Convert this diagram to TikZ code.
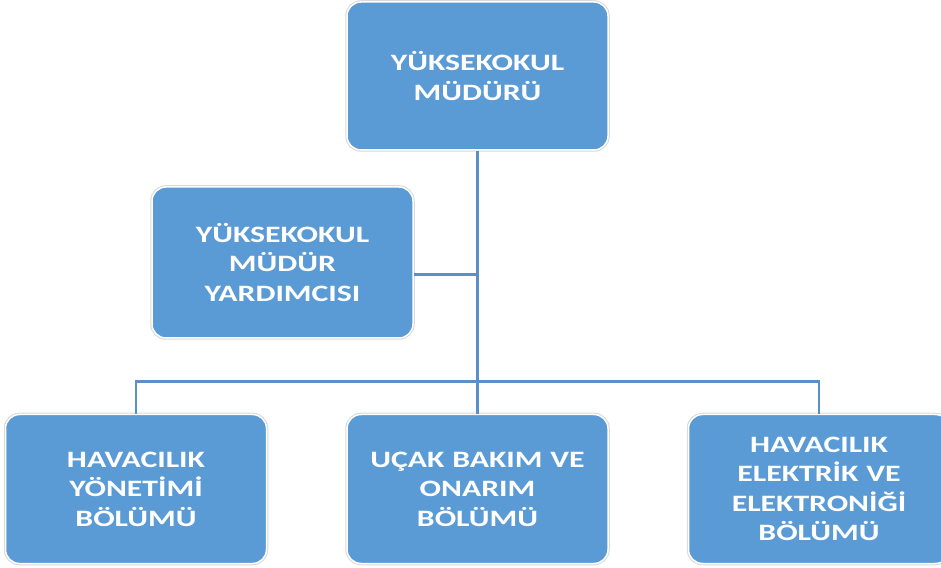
\documentclass[tikz,border=0pt]{standalone}
\usepackage{fontspec}
\setmainfont{Carlito}[FakeStretch=1.35]
\usepackage{xcolor}
\usepackage{tikz}
\usetikzlibrary{positioning, calc}

\definecolor{unitblue}{HTML}{5B9BD5}
\definecolor{lineblue}{HTML}{5A8FC8}

\begin{document}
\begin{tikzpicture}[x=1pt, y=1pt, node distance=79pt,
                % Define styles
                unit/.style={rectangle, draw=white, line width=1.5pt, fill=unitblue, rounded corners=14pt,
                             minimum width=261pt, minimum height=149pt, text width=245pt, align=center,
                             text=white, font=\fontsize{23.5}{29.5}\selectfont\bfseries,
                             preaction={draw=black!15, line width=3.5pt}},
                line/.style={draw=lineblue, line width=2.6pt}
            ]
            \clip (0,0) rectangle (941,567);
            \fill[white] (0,0) rectangle (941,567);

            % --- Nodes ---

            % 1. Director
            \node [unit, minimum height=148pt] (director) at (477.5,491) {YÜKSEKOKUL\\MÜDÜRÜ};

            % 2. Assistant director
            \node [unit, minimum height=151pt] (assistant) at (282.5,304.5) {YÜKSEKOKUL\\MÜDÜR\\YARDIMCISI};

            % 3. Departments
            \node [unit, below=263pt of director] (maintenance) {UÇAK BAKIM VE\\ONARIM\\BÖLÜMÜ};
            \node [unit, left=of maintenance] (management) {HAVACILIK\\YÖNETİMİ\\BÖLÜMÜ};
            \node [unit, right=of maintenance] (electronics) {HAVACILIK\\ELEKTRİK VE\\ELEKTRONİĞİ\\BÖLÜMÜ};

            \coordinate [above=32pt of maintenance.north] (bar);

            % --- Edges ---
            \path [line] (director.south) -- (maintenance.north);
            \path [line] ([yshift=-12pt]assistant.east) -- ([yshift=-12pt]assistant.east -| director.south);
            \path [line] (management.north) |- (bar) -| (electronics.north);

        \end{tikzpicture}
\end{document}
